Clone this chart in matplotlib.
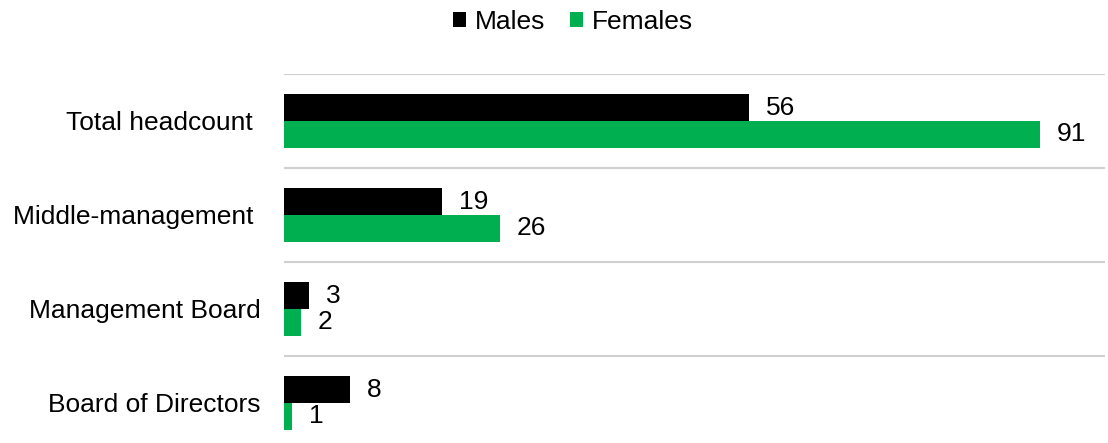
import matplotlib.pyplot as plt
import numpy as np

plt.rcParams['font.family'] = ['Liberation Sans', 'DejaVu Sans']

categories = ['Total headcount ', 'Middle-management ', 'Management Board', 'Board of Directors']
males = [56, 19, 3, 8]
females = [91, 26, 2, 1]

black = '#000000'
green = '#00B050'
fs = 19

fig = plt.figure(figsize=(11.08, 4.43), dpi=100)
ax = fig.add_axes([284 / 1108, 0, 821 / 1108, 369 / 443])

y = np.arange(len(categories))
h = 0.287
b1 = ax.barh(y - h / 2, males, height=h, color=black, label='Males')
b2 = ax.barh(y + h / 2, females, height=h, color=green, label='Females')

for bars, vals in ((b1, males), (b2, females)):
    for rect, v in zip(bars, vals):
        ax.annotate(str(v), (rect.get_width(), rect.get_y() + rect.get_height() / 2),
                    xytext=(12, 0), textcoords='offset points',
                    ha='left', va='center', fontsize=fs)

ax.set_xlim(0, 98.8)
ax.set_ylim(-0.5 + 369 / 94, -0.5)
for g in [-0.5, 0.5, 1.5, 2.5, 3.5]:
    ax.axhline(g, color='#D0D0D0', lw=1.5, zorder=0)

ax.set_yticks(y)
ax.set_yticklabels(categories, fontsize=fs)
ax.tick_params(axis='y', length=0, pad=17)
ax.set_xticks([])
for s in ax.spines.values():
    s.set_visible(False)

fig.legend(handles=[b1, b2], loc='center', bbox_to_anchor=(573 / 1108, 1 - 22 / 443),
           ncol=2, frameon=False, fontsize=fs, handlelength=0.49, handleheight=0.49,
           handletextpad=0.34, columnspacing=0.91)

fig.savefig('out.png', dpi=100)
